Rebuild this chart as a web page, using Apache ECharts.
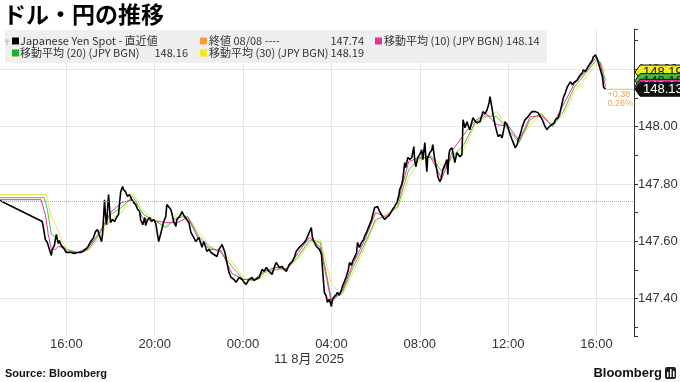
<!DOCTYPE html>
<html><head><meta charset="utf-8">
<script src="https://cdn.jsdelivr.net/npm/echarts@6/dist/echarts.min.js"></script>
<style>html,body{margin:0;padding:0;background:#fff}#c{width:680px;height:382px}</style>
</head><body><div id="c"></div>
<script>
// time = hours since 10 Aug 2025 00:00
const times = [
12.91,14.91,14.96,15.05,15.14,15.23,15.32,15.36,15.46,15.50,
15.55,15.59,15.64,15.68,15.77,15.86,15.91,16.00,16.09,16.23,
16.36,16.50,16.64,16.77,16.86,16.96,17.05,17.14,17.23,17.32,
17.41,17.50,17.59,17.64,17.73,17.77,17.82,17.91,17.96,18.00,
18.09,18.18,18.27,18.36,18.46,18.55,18.59,18.68,18.77,18.86,
18.96,19.05,19.14,19.23,19.32,19.36,19.46,19.55,19.59,19.68,
19.77,19.86,19.96,20.05,20.18,20.32,20.41,20.50,20.55,20.64,
20.73,20.77,20.86,20.96,21.00,21.09,21.18,21.23,21.32,21.41,
21.55,21.64,21.77,21.86,22.00,22.14,22.23,22.36,22.46,22.55,
22.68,22.82,22.91,23.00,23.05,23.18,23.27,23.36,23.46,23.59,
23.68,23.82,23.96,24.05,24.14,24.27,24.41,24.50,24.59,24.73,
24.86,24.96,25.05,25.18,25.32,25.41,25.50,25.64,25.77,25.86,
25.96,26.09,26.23,26.32,26.41,26.55,26.68,26.77,26.86,26.96,
27.09,27.14,27.23,27.32,27.46,27.55,27.59,27.68,27.77,27.82,
27.91,28.00,28.05,28.14,28.23,28.27,28.36,28.46,28.50,28.59,
28.68,28.77,28.82,28.91,28.96,29.05,29.14,29.18,29.27,29.36,
29.46,29.50,29.59,29.64,29.73,29.82,29.91,29.96,30.09,30.18,
30.32,30.41,30.50,30.64,30.77,30.86,30.96,31.05,31.09,31.18,
31.23,31.32,31.36,31.46,31.55,31.64,31.73,31.77,31.82,31.91,
32.00,32.09,32.14,32.23,32.32,32.36,32.46,32.55,32.59,32.68,
32.77,32.82,32.91,32.96,33.05,33.14,33.23,33.27,33.32,33.36,
33.46,33.50,33.59,33.68,33.73,33.82,33.91,33.96,34.05,34.14,
34.18,34.27,34.36,34.41,34.50,34.59,34.73,34.82,34.86,34.96,
35.05,35.14,35.18,35.27,35.32,35.41,35.50,35.55,35.64,35.73,
35.82,35.86,35.96,36.00,36.09,36.18,36.27,36.32,36.41,36.46,
36.55,36.64,36.73,36.77,36.86,36.91,37.00,37.09,37.23,37.32,
37.36,37.46,37.55,37.64,37.68,37.77,37.82,37.91,38.00,38.09,
38.14,38.23,38.27,38.36,38.41,38.50,38.59,38.68,38.73,38.82,
38.91,38.96,39.05,39.14,39.18,39.27,39.36,39.41,39.50,39.59,
39.64,39.73,39.82,39.86,39.96,40.05,40.14,40.18,40.27,40.32,
40.41];
const price = [
147.745,147.669,147.648,147.606,147.596,147.572,147.551,147.572,147.585,147.606,
147.624,147.606,147.592,147.603,147.585,147.579,147.572,147.561,147.558,147.561,
147.558,147.561,147.561,147.565,147.568,147.579,147.592,147.603,147.613,147.634,
147.641,147.620,147.599,147.624,147.745,147.693,147.658,147.763,147.711,147.665,
147.676,147.669,147.683,147.693,147.773,147.791,147.780,147.773,147.756,147.763,
147.745,147.735,147.728,147.711,147.704,147.676,147.658,147.683,147.655,147.676,
147.683,147.669,147.676,147.662,147.599,147.641,147.669,147.686,147.728,147.732,
147.711,147.700,147.669,147.652,147.676,147.683,147.693,147.704,147.690,147.686,
147.665,147.631,147.613,147.599,147.613,147.579,147.599,147.565,147.572,147.561,
147.554,147.547,147.572,147.582,147.589,147.561,147.526,147.492,147.474,147.467,
147.457,147.474,147.467,147.457,147.450,147.467,147.474,147.464,147.460,147.474,
147.502,147.495,147.509,147.495,147.485,147.509,147.526,147.509,147.512,147.502,
147.495,147.519,147.530,147.544,147.565,147.579,147.589,147.596,147.606,147.624,
147.648,147.613,147.596,147.582,147.572,147.554,147.512,147.422,147.408,147.387,
147.398,147.373,147.398,147.408,147.415,147.422,147.412,147.432,147.443,147.460,
147.478,147.502,147.526,147.516,147.530,147.544,147.561,147.596,147.579,147.596,
147.606,147.617,147.631,147.641,147.658,147.676,147.704,147.718,147.721,147.704,
147.686,147.676,147.683,147.693,147.711,147.721,147.735,147.759,147.780,147.798,
147.815,147.874,147.857,147.892,147.885,147.892,147.930,147.885,147.860,147.892,
147.902,147.919,147.885,147.944,147.843,147.892,147.909,147.919,147.937,147.885,
147.850,147.825,147.808,147.815,147.850,147.867,147.885,147.832,147.902,147.919,
147.926,147.930,147.874,147.909,147.909,147.895,147.902,148.024,147.996,148.017,
148.006,147.989,148.017,148.031,148.020,148.013,148.017,148.041,148.052,148.045,
148.058,148.083,148.104,148.065,148.041,148.006,147.978,147.965,147.972,147.961,
147.996,148.017,148.006,147.996,147.972,147.954,147.937,147.926,147.937,147.954,
147.972,147.999,148.017,148.024,148.031,148.034,148.045,148.052,148.052,148.058,
148.048,148.034,148.024,148.006,147.999,147.989,147.996,148.003,148.006,148.013,
148.024,148.027,148.031,148.052,148.069,148.100,148.118,148.138,148.135,148.156,
148.145,148.152,148.156,148.163,148.170,148.180,148.187,148.198,148.191,148.205,
148.211,148.222,148.232,148.243,148.250,148.232,148.208,148.198,148.173,148.138,
148.130];

const ma10StartTimes = [12.91,14.86,15.05,15.18,15.32,15.50,15.64,15.86];
const ma10Start = [147.745,147.745,147.693,147.624,147.572,147.572,147.582,147.579];
const ma20StartTimes = [12.91,15.00,15.14,15.32,15.55,15.77];
const ma20Start = [147.752,147.752,147.711,147.624,147.613,147.589];
const ma30StartTimes = [12.91,15.09,15.32,15.55,15.77];
const ma30Start = [147.763,147.763,147.686,147.652,147.606];

const maTimes = [16.0,16.5,17.0,17.5,18.0,18.5,19.0,19.5,20.0,20.5,21.0,21.5,22.0,22.5,23.0,23.5,24.0,24.5,25.0,25.5,26.0,26.5,27.0,27.5,28.0,28.5,29.0,29.5,30.0,30.5,31.0,31.5,32.0,32.5,33.0,33.5,34.0,34.5,35.0,35.5,36.0,36.5,37.0,37.5,38.0,38.5,39.0,39.5,40.0,40.18,40.41];
const ma10 = [
147.565,147.561,147.579,147.631,147.700,147.735,147.745,147.676,147.672,147.665,
147.665,147.683,147.606,147.572,147.568,147.488,147.467,147.467,147.498,147.509,
147.502,147.561,147.613,147.579,147.387,147.429,147.526,147.603,147.700,147.683,
147.735,147.878,147.892,147.892,147.818,147.919,147.972,148.020,148.045,148.006,
148.003,147.951,148.034,148.038,148.003,148.076,148.149,148.191,148.243,148.215,
148.14];
const ma20 = [
147.572,147.561,147.572,147.624,147.693,147.718,147.756,147.693,147.672,147.648,
147.683,147.686,147.617,147.579,147.561,147.512,147.467,147.464,147.492,147.502,
147.505,147.547,147.603,147.596,147.398,147.422,147.512,147.589,147.676,147.690,
147.721,147.850,147.888,147.898,147.843,147.898,147.937,148.013,148.038,148.034,
147.989,147.944,148.024,148.045,147.999,148.052,148.138,148.184,148.232,148.225,
148.16];
const ma30 = [
147.575,147.561,147.568,147.613,147.676,147.700,147.766,147.707,147.672,147.652,
147.697,147.686,147.631,147.585,147.561,147.530,147.474,147.460,147.481,147.502,
147.509,147.537,147.596,147.606,147.450,147.412,147.495,147.579,147.669,147.697,
147.714,147.822,147.881,147.898,147.864,147.885,147.919,148.006,148.031,148.052,
147.989,147.954,148.006,148.045,148.006,148.038,148.121,148.170,148.218,148.222,
148.19];

const prevClose = 147.74;
const changeText = ['+0.38', '0.26%'];
const xTickHours = 4;

const X_MIN = 12, X_MAX = 41.70, Y_MIN = 147.27, Y_MAX = 148.34;
const PINK = '#e0359b', GREEN = '#4cc04c', YELLOW = '#ece25a', ORANGE = '#f0a030';
const pairs = (t, v) => t.map((x, i) => [x, v[i]]);

const chart = echarts.init(document.getElementById('c'), null, {renderer: 'canvas'});
const LEG_FONT = "'Noto Sans CJK JP'";
const AX_FONT = "'Liberation Sans', Arial";

chart.setOption({
  animation: false,
  backgroundColor: '#fff',
  grid: {left: -22, right: 46, top: 29, bottom: 46, containLabel: false, outerBoundsMode: 'none'},
  xAxis: {
    type: 'value', min: X_MIN, max: X_MAX, interval: xTickHours,
    axisLine: {show: false}, axisTick: {show: false},
    axisLabel: {showMinLabel: false, showMaxLabel: false, color: '#333', fontSize: 13, fontFamily: AX_FONT, margin: 2,
      formatter: v => String(Math.round(v) % 24).padStart(2, '0') + ':00'},
    splitLine: {show: true, lineStyle: {color: '#e6e6e6', width: 1}}
  },
  yAxis: {
    type: 'value', position: 'right', min: Y_MIN, max: Y_MAX, splitNumber: 5,
    axisLine: {show: true, lineStyle: {color: '#333', width: 1}},
    axisTick: {show: true, length: 4, lineStyle: {color: '#333'}},
    minorTick: {show: true, splitNumber: 2, length: 4, lineStyle: {color: '#333'}},
    axisLabel: {showMinLabel: false, showMaxLabel: false, color: '#333', fontSize: 13, fontFamily: AX_FONT, margin: 4,
      formatter: v => v.toFixed(2)},
    splitLine: {show: true, lineStyle: {color: ['rgba(0,0,0,0)', '#e6e6e6', '#e6e6e6', '#e6e6e6', '#e6e6e6', '#e6e6e6', 'rgba(0,0,0,0)']}}
  },
  series: [
    {type: 'line', name: 'ma30', data: pairs(ma30StartTimes, ma30Start).concat(pairs(maTimes, ma30)), symbol: 'none',
      lineStyle: {color: YELLOW, width: 1}, silent: true},
    {type: 'line', name: 'ma20', data: pairs(ma20StartTimes, ma20Start).concat(pairs(maTimes, ma20)), symbol: 'none',
      lineStyle: {color: GREEN, width: 1}, silent: true},
    {type: 'line', name: 'ma10', data: pairs(ma10StartTimes, ma10Start).concat(pairs(maTimes, ma10)), symbol: 'none',
      lineStyle: {color: PINK, width: 1}, silent: true},
    {type: 'line', name: 'price', data: pairs(times, price), symbol: 'none',
      lineStyle: {color: '#000', width: 1.6}, silent: true,
      markLine: {silent: true, symbol: 'none', label: {show: false},
        data: [
          {yAxis: prevClose, lineStyle: {type: 'dotted', color: ORANGE, width: 1}},
          {xAxis: 12.95, lineStyle: {type: 'dashed', color: '#c8c8c8', width: 1}}
        ]}}
  ]
});

// annotations derived from the axes
const lastT = times[times.length - 1], lastV = price[price.length - 1];
const lp = chart.convertToPixel({gridIndex: 0}, [lastT, lastV]);
const axX = chart.convertToPixel({xAxisIndex: 0}, X_MAX);
const tags = [
  {v: lastV, fill: '#111', color: '#fff'},
  {v: ma10[ma10.length - 1], fill: PINK, color: '#fff'},
  {v: ma20[ma20.length - 1], fill: '#3cc03c', color: '#111'},
  {v: ma30[ma30.length - 1], fill: '#f4ec1c', color: '#111'}
];
let prevY = null;
tags.forEach(d => {
  let y = chart.convertToPixel({yAxisIndex: 0}, d.v);
  if (prevY !== null && y > prevY - 3) y = prevY - 3;
  d.y = y; prevY = y;
});
const g = [];
// legend box
g.push({type: 'rect', shape: {x: 5, y: 30, width: 542, height: 33}, style: {fill: '#efefef'}, z: 5});
const legTxt = (x, y, t, align) => ({type: 'text', x: x, y: y, z: 6,
  style: {text: t, fill: '#333', font: '11px ' + LEG_FONT, align: align || 'left', verticalAlign: 'middle'}});
const sq = (x, y, c) => ({type: 'rect', shape: {x: x, y: y - 3.5, width: 7, height: 7}, style: {fill: c}, z: 6});
g.push({type: 'text', x: 5, y: 41, z: 6, style: {text: '╤', fill: '#999', font: '7px DejaVu Sans', verticalAlign: 'middle'}});
g.push(sq(12, 41, '#000'), legTxt(20, 41, 'Japanese Yen Spot - 直近値'));
g.push(sq(200, 41, ORANGE), legTxt(209, 41, '終値 08/08 ----'), legTxt(364, 41, prevClose.toFixed(2), 'right'));
g.push(sq(375, 41, PINK), legTxt(384, 41, '移動平均 (10) (JPY BGN) ' + ma10[ma10.length - 1].toFixed(2)));
g.push(sq(12, 53, '#22b022'), legTxt(20, 53, '移動平均 (20) (JPY BGN)'), legTxt(188, 53, ma20[ma20.length - 1].toFixed(2), 'right'));
g.push(sq(200, 53, '#f6e81a'), legTxt(209, 53, '移動平均 (30) (JPY BGN)'), legTxt(364, 53, ma30[ma30.length - 1].toFixed(2), 'right'));
// connector to axis and change text
g.push({type: 'line', shape: {x1: lp[0], y1: lp[1], x2: axX, y2: lp[1]}, style: {stroke: '#f6b26b', lineWidth: 1}, z: 4});
g.push({type: 'text', x: lp[0] + 2, y: lp[1] + 5, z: 4, style: {text: changeText[0], fill: '#f3a550', font: '9px Liberation Sans', verticalAlign: 'middle'}});
g.push({type: 'text', x: lp[0] + 2, y: lp[1] + 14, z: 4, style: {text: changeText[1], fill: '#f3a550', font: '9px Liberation Sans', verticalAlign: 'middle'}});
// tags (back to front)
tags.slice().reverse().forEach((d, i) => {
  const y = d.y;
  g.push({type: 'polygon', z: 20 + i * 2, shape: {points: [[axX + 1, y], [axX + 6, y - 7], [684, y - 7], [684, y + 7], [axX + 6, y + 7]]},
    style: {fill: d.fill, stroke: '#111', lineWidth: 1}});
  g.push({type: 'text', z: 21 + i * 2, x: axX + 9, y: y + 0.5, style: {text: d.v.toFixed(2), fill: d.color, font: '13px ' + AX_FONT, verticalAlign: 'middle'}});
});
// title, date, source, logo
g.push({type: 'text', x: 3, y: 14, style: {text: 'ドル・円の推移', fill: '#000', font: "bold 23px 'Noto Sans CJK JP'", verticalAlign: 'middle'}});
g.push({type: 'text', x: 309, y: 359, style: {text: '11 8月 2025', fill: '#333', font: "13px 'Liberation Sans','Noto Sans CJK JP'", align: 'center', verticalAlign: 'middle'}});
g.push({type: 'text', x: 5, y: 374, style: {text: 'Source: Bloomberg', fill: '#111', font: 'bold 11px Liberation Sans', verticalAlign: 'middle'}});
g.push({type: 'text', x: 662, y: 373, style: {text: 'Bloomberg', fill: '#111', font: 'bold 13px Liberation Sans', align: 'right', verticalAlign: 'middle'}});
g.push({type: 'rect', shape: {x: 665, y: 367, width: 11, height: 12, r: 2}, style: {fill: '#222'}});
g.push({type: 'rect', shape: {x: 667, y: 372, width: 1.5, height: 5}, style: {fill: '#fff'}});
g.push({type: 'rect', shape: {x: 670, y: 369, width: 1.5, height: 8}, style: {fill: '#fff'}});
g.push({type: 'rect', shape: {x: 673, y: 371, width: 1.5, height: 6}, style: {fill: '#fff'}});
chart.setOption({graphic: g});
</script>
</body></html>
